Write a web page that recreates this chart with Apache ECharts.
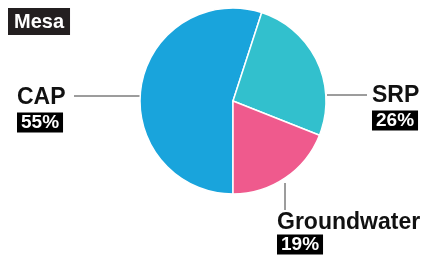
<!DOCTYPE html>
<html>
<head>
<meta charset="utf-8">
<script src="https://cdn.jsdelivr.net/npm/echarts@6/dist/echarts.min.js"></script>
<style>
  html, body { margin: 0; padding: 0; background: #fff; }
  #chart { width: 433px; height: 255px; }
</style>
</head>
<body>
<div id="chart"></div>
<script>
// data
var sources = ['CAP', 'SRP', 'Groundwater'];
var shares = [55, 26, 19];
var colors = ['#19a4dc', '#32c0cd', '#ef5a8d'];

// where each label sits and how its leader line runs
var labelSpots = [
  { x: 17, y: 82, key: 'n', line: [[140, 96], [107, 96], [74, 96]] },
  { x: 372, y: 80, key: 'n', line: [[327, 95], [347, 95], [367, 95]] },
  { x: 277, y: 210, key: 'g', line: [[285, 183], [285, 196], [285, 210]] }
];

var nameFont = {
  fontSize: 23,
  fontWeight: 'bold',
  color: '#111',
  fontFamily: 'Liberation Sans, Arial, sans-serif'
};

var myChart = echarts.init(document.getElementById('chart'));

var option = {
  animation: false,
  textStyle: { fontFamily: 'Liberation Sans, Arial, Helvetica, sans-serif' },
  title: {
    text: 'Mesa',
    left: 8,
    top: 8,
    padding: [4, 6, 3, 6],
    backgroundColor: '#231f20',
    textStyle: {
      color: '#fff',
      fontSize: 20,
      fontWeight: 'bold',
      fontFamily: 'Liberation Sans, Arial, sans-serif'
    }
  },
  series: [{
    type: 'pie',
    center: [233, 101],
    radius: 93,
    startAngle: 270,
    clockwise: true,
    data: sources.map(function (name, i) {
      return { name: name, value: shares[i], itemStyle: { color: colors[i] } };
    }),
    itemStyle: { borderColor: '#fff', borderWidth: 1.5 },
    label: {
      show: true,
      overflow: 'none',
      formatter: function (p) {
        var k = labelSpots[p.dataIndex].key;
        return '{' + k + '|' + p.name + '}\n{p|' + p.value + '%}';
      },
      rich: {
        n: Object.assign({ lineHeight: 32 }, nameFont),
        g: Object.assign({ lineHeight: 26 }, nameFont),
        p: {
          fontSize: 19,
          fontWeight: 'bold',
          color: '#fff',
          backgroundColor: '#000',
          padding: [1, 4, 0, 4],
          lineHeight: 17,
          fontFamily: 'Liberation Sans, Arial, sans-serif'
        }
      }
    },
    labelLine: {
      show: true,
      lineStyle: { color: '#3a3a3a', width: 1 }
    },
    labelLayout: function (params) {
      var s = labelSpots[params.dataIndex];
      return {
        x: s.x,
        y: s.y,
        align: 'left',
        verticalAlign: 'top',
        labelLinePoints: s.line
      };
    },
    emphasis: { disabled: true }
  }]
};

myChart.setOption(option);
</script>
</body>
</html>
